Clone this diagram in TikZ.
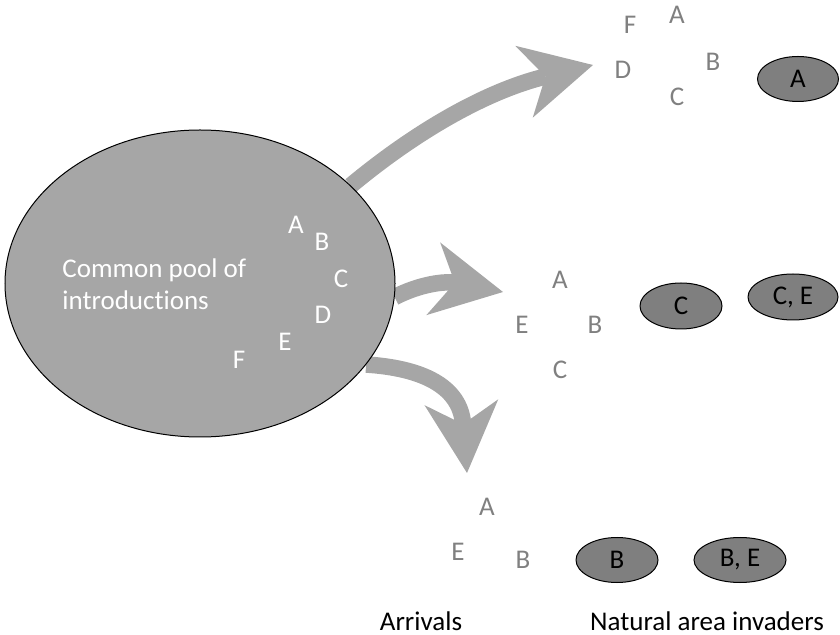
\documentclass[tikz,border=0pt]{standalone}
\usepackage{fontspec}
\setmainfont{Carlito}[Ligatures=NoCommon]
\usetikzlibrary{shapes.geometric,arrows.meta}
\definecolor{poolgray}{RGB}{166,166,166}
\definecolor{lettergray}{RGB}{128,128,128}
\definecolor{invadergray}{RGB}{127,127,127}

\begin{document}
\begin{tikzpicture}[x=0.5pt, y=-0.5pt,
    every node/.style={font=\fontsize{13.5}{16}\selectfont, inner sep=0pt},
    poolletter/.style={text=white},
    arrival/.style={text=lettergray},
    invader/.style={ellipse, draw=black, line width=0.5pt, fill=invadergray, minimum width=41pt, minimum height=22.5pt},
    bigarrow/.style={draw=poolgray, line width=8.25pt, -{Stealth[length=35.5pt, width=37pt, inset=11pt, line width=0pt]}}]
    \useasboundingbox (0,0) rectangle (840,635);

    % end points of the three arrows
    \coordinate (tipTop) at (593,65);
    \coordinate (tipMid) at (503,292);
    \coordinate (tipLow) at (467,473);

    % pool shape first, arrows over it, outline again on top
    \node[ellipse, fill=poolgray, minimum width=195pt, minimum height=153.5pt] (pool) at (200,283.5) {};

    \draw[bigarrow] (pool.33) .. controls (420,128) and (490,90) .. (tipTop);
    \draw[bigarrow] (pool.-4) .. controls (420,284) and (445,281) .. (tipMid);
    \draw[bigarrow] (pool.-26) .. controls (420,368) and (460,385) .. (tipLow);

    \draw[line width=0.5pt] (pool.center) ellipse[x radius=97.5pt, y radius=76.75pt];

    % common pool
    \node[poolletter, align=left, anchor=west] (poolText) at (62,284) {Common pool of\\introductions};
    \node[poolletter] (poolA) at (296,225) {A};
    \node[poolletter] (poolB) at (322,242) {B};
    \node[poolletter] (poolC) at (341,279) {C};
    \node[poolletter] (poolD) at (323,315) {D};
    \node[poolletter] (poolE) at (285,342) {E};
    \node[poolletter] (poolF) at (239,360) {F};

    % top group
    \node[arrival] (topF) at (630,25) {F};
    \node[arrival] (topA) at (677,15) {A};
    \node[arrival] (topB) at (713,62) {B};
    \node[arrival] (topD) at (623,70) {D};
    \node[arrival] (topC) at (677,97) {C};
    \node[invader, minimum width=40.5pt] (invA) at (798,79) {A};

    % middle group
    \node[arrival] (midA) at (560,280) {A};
    \node[arrival] (midE) at (522,325) {E};
    \node[arrival] (midB) at (595,325) {B};
    \node[arrival] (midC) at (560,370) {C};
    \node[invader, minimum height=23pt] (invC) at (681,306) {C};
    \node[invader, minimum width=45pt, minimum height=23pt] (invCE) at (793,297) {C, E};

    % lower group
    \node[arrival] (lowA) at (487,507) {A};
    \node[arrival] (lowE) at (458,552) {E};
    \node[arrival] (lowB) at (523,560) {B};
    \node[invader] (invB) at (617,560) {B};
    \node[invader, minimum width=46pt] (invBE) at (740,560) {B, E};

    % column titles
    \node[anchor=base] (arrivals) at (421,630) {Arrivals};
    \node[anchor=base] (invaders) at (707,630) {Natural area invaders};
\end{tikzpicture}
\end{document}
